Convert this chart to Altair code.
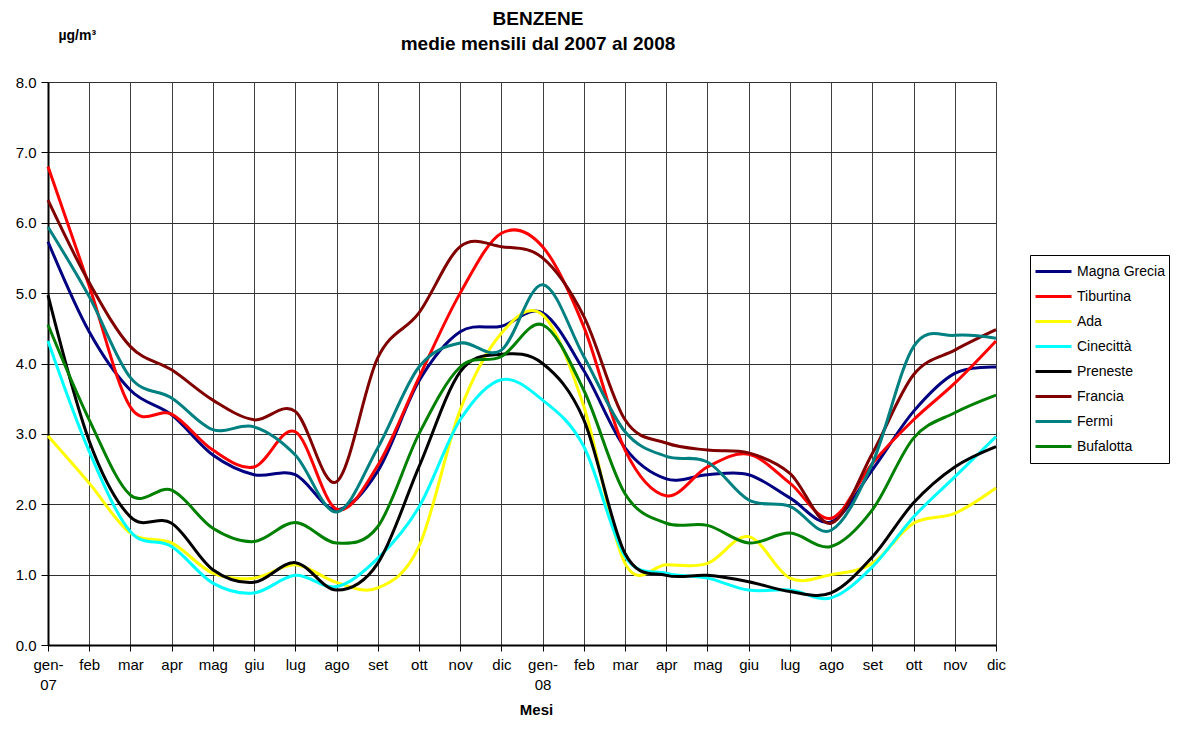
import json
import altair as alt
import pandas as pd

# ---- data ----
months = ["gen-|07", "feb", "mar", "apr", "mag", "giu", "lug", "ago", "set", "ott", "nov", "dic",
          "gen-|08", "feb", "mar", "apr", "mag", "giu", "lug", "ago", "set", "ott", "nov", "dic"]

series_names = ["Magna Grecia", "Tiburtina", "Ada", "Cinecittà", "Preneste", "Francia", "Fermi", "Bufalotta"]
series_colors = ["#000080", "#FF0000", "#FFFF00", "#00FFFF", "#000000", "#800000", "#008080", "#008000"]

magna_grecia = [5.73, 4.45, 3.62, 3.27, 2.70, 2.42, 2.42, 1.92, 2.47, 3.75, 4.45, 4.53,
                4.72, 3.90, 2.80, 2.36, 2.42, 2.42, 2.09, 1.75, 2.49, 3.32, 3.86, 3.95]
tiburtina = [6.80, 5.10, 3.38, 3.28, 2.77, 2.53, 3.03, 1.93, 2.55, 3.80, 5.00, 5.85,
             5.66, 4.52, 2.77, 2.12, 2.53, 2.71, 2.30, 1.80, 2.58, 3.20, 3.72, 4.32]
ada = [2.97, 2.30, 1.59, 1.45, 1.02, 0.95, 1.14, 0.89, 0.81, 1.40, 3.34, 4.43,
       4.69, 3.39, 1.16, 1.14, 1.16, 1.54, 0.95, 1.00, 1.16, 1.73, 1.87, 2.23]
cinecitta = [4.32, 2.75, 1.61, 1.40, 0.88, 0.74, 0.99, 0.83, 1.23, 1.96, 3.20, 3.77,
             3.48, 2.82, 1.26, 1.02, 0.95, 0.78, 0.78, 0.67, 1.11, 1.82, 2.39, 2.96]
preneste = [4.97, 2.90, 1.82, 1.73, 1.07, 0.89, 1.17, 0.78, 1.16, 2.53, 3.88, 4.13,
            4.00, 3.20, 1.30, 0.99, 0.99, 0.90, 0.76, 0.74, 1.25, 2.02, 2.53, 2.82]
francia = [6.32, 5.15, 4.24, 3.91, 3.48, 3.20, 3.32, 2.32, 4.08, 4.72, 5.66, 5.66,
           5.50, 4.67, 3.20, 2.87, 2.77, 2.73, 2.44, 1.73, 2.72, 3.84, 4.19, 4.48]
fermi = [5.94, 4.95, 3.80, 3.51, 3.06, 3.10, 2.70, 1.89, 2.80, 3.95, 4.29, 4.19,
         5.12, 4.10, 3.03, 2.68, 2.60, 2.06, 1.97, 1.63, 2.58, 4.24, 4.40, 4.36]
bufalotta = [4.55, 3.20, 2.13, 2.20, 1.66, 1.47, 1.74, 1.45, 1.68, 3.00, 3.95, 4.10,
             4.55, 3.62, 2.15, 1.73, 1.70, 1.45, 1.59, 1.40, 1.92, 2.94, 3.30, 3.55]

series_values = [magna_grecia, tiburtina, ada, cinecitta, preneste, francia, fermi, bufalotta]

rows = []
for k, (name, vals) in enumerate(zip(series_names, series_values)):
    for i, v in enumerate(vals):
        rows.append({"idx": i, "serie": name, "valore": v, "k": k})
df = pd.DataFrame(rows)

FONT = "Liberation Sans"
label_expr = "split(" + json.dumps(months) + "[round(datum.value)], '|')"

chart = alt.Chart(df).mark_line(interpolate="cardinal", strokeWidth=3).encode(
    x=alt.X("idx:Q",
            scale=alt.Scale(domain=[0, 23], nice=False, zero=False),
            axis=alt.Axis(values=list(range(24)), labelExpr=label_expr, title="Mesi",
                          grid=True, gridColor="#404040", gridWidth=1,
                          domainColor="black", domainWidth=2,
                          tickColor="black", tickSize=6, tickWidth=1,
                          labelFont=FONT, labelFontSize=15, labelColor="black",
                          labelPadding=6, labelLineHeight=20, labelFlush=False,
                          labelOverlap=False,
                          titleFont=FONT, titleFontSize=15, titleFontWeight="bold",
                          titleColor="black", titleX=488, titleY=69,
                          titleBaseline="alphabetic", titleAlign="center")),
    y=alt.Y("valore:Q",
            scale=alt.Scale(domain=[0, 8], nice=False, zero=True),
            axis=alt.Axis(values=[0, 1, 2, 3, 4, 5, 6, 7, 8], format=".1f", title="µg/m³",
                          grid=True, gridColor="#303030", gridWidth=1,
                          domainColor="black", domainWidth=2,
                          tickColor="black", tickSize=7, tickWidth=1,
                          labelFont=FONT, labelFontSize=15, labelColor="black", labelPadding=5,
                          titleFont=FONT, titleFontSize=14, titleFontWeight="bold",
                          titleColor="black", titleAngle=0, titleAlign="left",
                          titleBaseline="alphabetic", titleX=10, titleY=-43)),
    color=alt.Color("serie:N", title=None,
                    scale=alt.Scale(domain=series_names, range=series_colors),
                    legend=alt.Legend(orient="none", legendX=982, legendY=173,
                                      symbolType="stroke", symbolSize=1296, symbolStrokeWidth=3,
                                      labelFont=FONT, labelFontSize=14, labelColor="black",
                                      labelOffset=4, clipHeight=25, rowPadding=0,
                                      padding=4, strokeColor="black", fillColor="white",
                                      cornerRadius=0)),
    order=alt.Order("k:Q"),
    detail="serie:N",
).properties(
    width=948,
    height=563,
    title=alt.TitleParams(text=["BENZENE", "medie mensili dal 2007 al 2008"],
                          font=FONT, fontSize=19, fontWeight="bold", color="black",
                          anchor="middle", dx=16, offset=-26, lineHeight=25),
    autosize=alt.AutoSizeParams(type="none"),
    padding={"left": 40, "top": 74, "right": 180, "bottom": 76},
).configure_view(
    stroke="black", strokeWidth=1.5
).configure(background="white")

chart.save("out.html", embed_options={"renderer": "svg", "actions": False})
